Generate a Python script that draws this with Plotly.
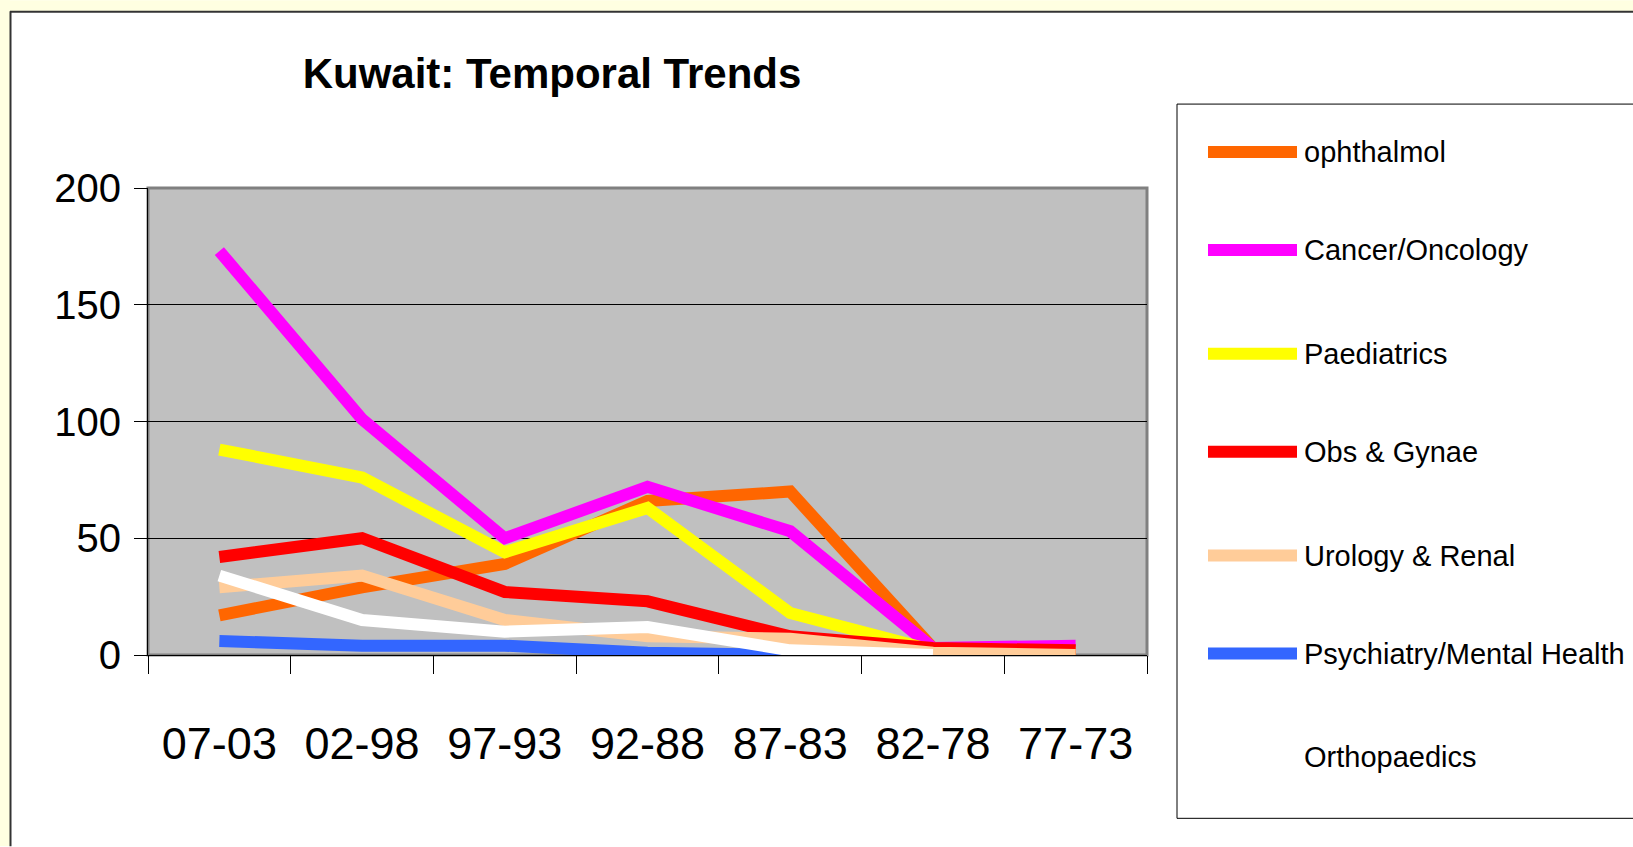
import plotly.graph_objects as go

# categories (time periods) and series values
periods = ['07-03', '02-98', '97-93', '92-88', '87-83', '82-78', '77-73']

ophthalmol = [17, 29, 39, 66, 70, 3, 2]
cancer_oncology = [173, 101, 50, 72, 53, 3, 4]
paediatrics = [88, 76, 44, 63, 18, 2, 1]
obs_gynae = [42, 50, 27, 23, 8, 3, 2]
urology_renal = [29, 34, 15, 8, 7, 1, 0]
psychiatry = [6, 4, 4, 1, 0, 0, None]
orthopaedics = [34, 15, 10, 12, 2, 0, None]

series_names = ['ophthalmol', 'Cancer/Oncology', 'Paediatrics', 'Obs & Gynae',
                'Urology & Renal', 'Psychiatry/Mental Health', 'Orthopaedics']
series_values = [ophthalmol, cancer_oncology, paediatrics, obs_gynae,
                 urology_renal, psychiatry, orthopaedics]
series_colors = ['#FF6600', '#FF00FF', '#FFFF00', '#FF0000',
                 '#FFCC99', '#3366FF', '#FFFFFF']

y_ticks = [0, 50, 100, 150, 200]

W, H = 1633, 847
# plot area in pixels
PL, PR, PT, PB = 148, 1147, 188, 655.5

font = "Liberation Sans, Arial, sans-serif"


def px_x(px):
    return (px - PL) / (PR - PL)


def px_y(py):
    return (PB - py) / (PB - PT)


fig = go.Figure()

for name, vals, col in zip(series_names, series_values, series_colors):
    fig.add_trace(go.Scatter(x=periods, y=vals, name=name, mode='lines',
                             line=dict(color=col, width=12), showlegend=False))

shapes = []
# cream frame round the chart
shapes.append(dict(type='rect', xref='paper', yref='paper', layer='below',
                   x0=px_x(0), x1=px_x(W), y0=px_y(0), y1=px_y(11),
                   fillcolor='#FFFFE1', line=dict(width=0)))
shapes.append(dict(type='rect', xref='paper', yref='paper', layer='below',
                   x0=px_x(0), x1=px_x(10), y0=px_y(0), y1=px_y(H),
                   fillcolor='#FFFFE1', line=dict(width=0)))
shapes.append(dict(type='line', xref='paper', yref='paper',
                   x0=px_x(10), x1=px_x(W), y0=px_y(11.5), y1=px_y(11.5),
                   line=dict(color='#333333', width=2)))
shapes.append(dict(type='line', xref='paper', yref='paper',
                   x0=px_x(10.5), x1=px_x(10.5), y0=px_y(11), y1=px_y(H),
                   line=dict(color='#333333', width=2)))
# plot area border
shapes.append(dict(type='rect', xref='paper', yref='paper', layer='below',
                   x0=0, x1=1, y0=0, y1=1, line=dict(color='#808080', width=3)))
# legend box
shapes.append(dict(type='rect', xref='paper', yref='paper',
                   x0=px_x(1177), x1=px_x(W + 10), y0=px_y(104), y1=px_y(819),
                   fillcolor='white', line=dict(color='black', width=1)))

annotations = []
legend_rows = [152, 250, 354, 452, 556, 654, 758]
for name, col, ry in zip(series_names, series_colors, legend_rows):
    shapes.append(dict(type='line', xref='paper', yref='paper',
                       x0=px_x(1208), x1=px_x(1297), y0=px_y(ry), y1=px_y(ry),
                       line=dict(color=col, width=12)))
    annotations.append(dict(text=name, xref='paper', yref='paper',
                            x=px_x(1302), y=px_y(ry), xanchor='left', yanchor='middle',
                            showarrow=False, font=dict(family=font, size=29, color='black')))

fig.update_layout(
    width=W, height=H,
    margin=dict(l=PL, r=W - PR, t=PT, b=H - PB, pad=0),
    paper_bgcolor='white',
    plot_bgcolor='#C0C0C0',
    title=dict(text='<b>Kuwait: Temporal Trends</b>', xref='container', yref='container',
               x=552 / W, y=1 - 73 / H, xanchor='center', yanchor='middle',
               font=dict(family=font, size=42, color='black')),
    showlegend=False,
    shapes=shapes,
    annotations=annotations,
    xaxis=dict(type='category', range=[-0.5, 6.5], showline=True, linecolor='black', linewidth=1,
               ticks='outside', tickson='boundaries', ticklen=18, tickcolor='black', tickwidth=1,
               showgrid=False, zeroline=False, ticklabelstandoff=49, tickangle=0,
               tickfont=dict(family=font, size=45, color='black')),
    yaxis=dict(range=[0, 200], tickvals=y_ticks, showline=True, linecolor='black', linewidth=1,
               ticks='outside', ticklen=13, tickcolor='black', tickwidth=1,
               showgrid=True, gridcolor='black', gridwidth=1, zeroline=False,
               ticklabelstandoff=5,
               tickfont=dict(family=font, size=40, color='black')),
)

fig.write_html("out.html", config={'displayModeBar': False},
               post_script="document.body.style.margin='0';")
